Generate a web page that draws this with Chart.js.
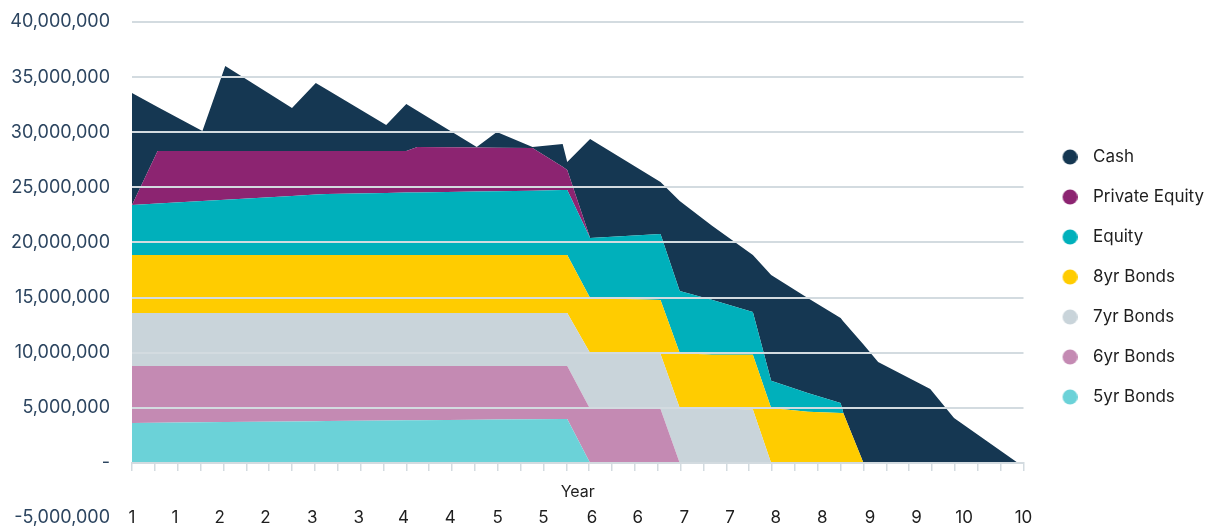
<!DOCTYPE html>
<html><head><meta charset="utf-8">
<script src="https://cdn.jsdelivr.net/npm/chart.js@4.4.1/dist/chart.umd.min.js"></script>
<style>html,body{margin:0;padding:0;background:#fff;}canvas{display:block;}</style>
</head><body>
<canvas id="c" width="1208" height="529"></canvas>
<script>
// ---- data (values in millions) ----
const years = [1.00,1.28,1.77,2.02,2.75,3.01,3.13,3.78,4.00,4.12,4.77,4.99,5.38,5.71,5.76,6.01,6.78,6.99,7.34,7.79,7.99,8.39,8.75,8.78,9.00,9.16,9.73,9.99,10.69];
const bonds5yr = [3.63,3.65,3.69,3.71,3.76,3.78,3.79,3.84,3.86,3.87,3.91,3.93,3.96,3.99,3.99,0,0,0,0,0,0,0,0,0,0,0,0,0,0];
const bonds6yr = [5.17,5.15,5.11,5.09,5.04,5.02,5.01,4.96,4.94,4.93,4.89,4.87,4.84,4.81,4.81,4.90,4.90,0,0,0,0,0,0,0,0,0,0,0,0];
const bonds7yr = [4.81,4.81,4.81,4.81,4.81,4.81,4.81,4.81,4.81,4.81,4.81,4.81,4.81,4.81,4.81,5.08,4.99,4.99,4.95,4.85,0,0,0,0,0,0,0,0,0];
const bonds8yr = [5.26,5.26,5.26,5.26,5.26,5.26,5.26,5.26,5.26,5.26,5.26,5.26,5.26,5.26,5.26,4.99,4.89,4.99,4.86,4.95,4.99,4.63,4.53,4.51,0,0,0,0,0];
const equity = [4.53,4.67,4.89,5.01,5.35,5.47,5.53,5.62,5.65,5.67,5.76,5.78,5.83,5.88,5.89,5.44,5.99,5.62,4.98,3.90,2.46,1.72,0.91,0,0,0,0,0,0];
const privateEquity = [0,4.76,4.54,4.42,4.08,3.96,3.90,3.81,3.78,4.12,3.99,3.95,3.87,2.12,1.82,0,0,0,0,0,0,0,0,0,0,0,0,0,0];
const cash = [10.16,3.98,1.81,7.71,3.90,6.17,5.57,2.36,4.26,3.29,0.04,1.42,0.09,2.06,0.72,8.98,4.71,8.15,6.75,5.15,9.60,8.62,7.71,8.32,10.74,9.16,6.71,4.08,0];
const UNIT = 1000000;

const seriesNames = ['5yr Bonds','6yr Bonds','7yr Bonds','8yr Bonds','Equity','Private Equity','Cash'];
const seriesValues = [bonds5yr,bonds6yr,bonds7yr,bonds8yr,equity,privateEquity,cash];
const seriesColors = ['#6bd2d8','#c48ab3','#c9d4da','#ffcc00','#00b0bb','#8c2471','#153752'];

const xTickLabels = ['1','1','2','2','3','3','4','4','5','5','6','6','7','7','8','8','9','9','10','10'];
const xTickValues = [1.00,1.47,1.96,2.46,2.97,3.48,3.97,4.48,5.00,5.50,6.03,6.53,7.04,7.54,8.04,8.55,9.07,9.58,10.10,10.75];
const xMin = 1, xMax = 10.75, quarterStep = 0.25;
const yMin = -5000000, yMax = 40000000, yStep = 5000000;

// ---- chart ----
Chart.defaults.font.family = 'Inter, "Noto Sans", sans-serif';
const gridColor = '#d3dbe0';

function dotImage(color){
  const c = document.createElement('canvas');
  c.width = 24; c.height = 16;
  const g = c.getContext('2d');
  g.fillStyle = color;
  g.beginPath(); g.arc(16.5, 8, 7.5, 0, Math.PI*2); g.fill();
  return c;
}

const datasets = seriesNames.map((name, s) => ({
  label: name,
  data: years.map((x, i) => ({x: x, y: seriesValues[s][i] * UNIT})),
  backgroundColor: seriesColors[s],
  borderColor: seriesColors[s],
  borderWidth: 0,
  pointRadius: 0,
  tension: 0,
  fill: s === 0 ? 'origin' : '-1'
}));

new Chart(document.getElementById('c'), {
  type: 'line',
  data: { datasets },
  options: {
    responsive: false,
    animation: false,
    events: [],
    layout: { padding: { top: 22, bottom: 11, left: 0, right: -6 } },
    plugins: {
      tooltip: { enabled: false },
      legend: {
        position: 'right',
        reverse: true,
        title: { display: true, text: ' ', font: { size: 10 }, padding: 1 },
        labels: {
          usePointStyle: true,
          pointStyleWidth: 38,
          padding: 23,
          color: '#1e1e1e',
          font: { size: 17 },
          generateLabels(chart) {
            const items = Chart.defaults.plugins.legend.labels.generateLabels(chart);
            items.forEach(it => { it.pointStyle = dotImage(seriesColors[it.datasetIndex]); });
            return items;
          }
        }
      }
    },
    scales: {
      x: {
        type: 'linear',
        min: xMin, max: xMax,
        position: { y: 0 },
        afterBuildTicks(axis) {
          const t = [];
          for (let v = xMin; v <= xMax + 1e-9; v += quarterStep) t.push({ value: v });
          axis.ticks = t;
        },
        ticks: { display: false },
        grid: { drawOnChartArea: false, drawTicks: true, tickLength: 7, color: gridColor, lineWidth: 1.5, z: 1 },
        border: { display: true, color: gridColor, width: 2, z: 1 },
        title: { display: true, text: 'Year', color: '#1e1e1e', font: { size: 16 }, padding: { top: 13, bottom: 0 } }
      },
      x2: {
        type: 'linear',
        min: xMin, max: xMax,
        position: { y: yMin },
        afterBuildTicks(axis) {
          axis.ticks = xTickValues.map(v => ({ value: v }));
        },
        ticks: {
          autoSkip: false, maxRotation: 0, padding: -10, color: '#1e1e1e', font: { size: 17 },
          callback: (v, i) => xTickLabels[i]
        },
        grid: { display: false, drawTicks: false },
        border: { display: false }
      },
      y: {
        stacked: true,
        min: yMin, max: yMax,
        afterFit(scale) { scale.width = 132; },
        afterBuildTicks(axis) {
          const t = [];
          for (let v = yMin; v <= yMax; v += yStep) t.push({ value: v });
          axis.ticks = t;
        },
        ticks: {
          padding: 0, color: '#2c4560', font: { size: 18 },
          callback: v => v === 0 ? '-' : v.toLocaleString('en-US')
        },
        grid: {
          drawTicks: true, tickLength: 22, tickColor: 'rgba(0,0,0,0)', lineWidth: 2, z: 1,
          color: ctx => (ctx.tick && ctx.tick.value <= yMin) ? 'rgba(0,0,0,0)' : gridColor
        },
        border: { display: false }
      }
    }
  }
});
</script>
</body></html>
